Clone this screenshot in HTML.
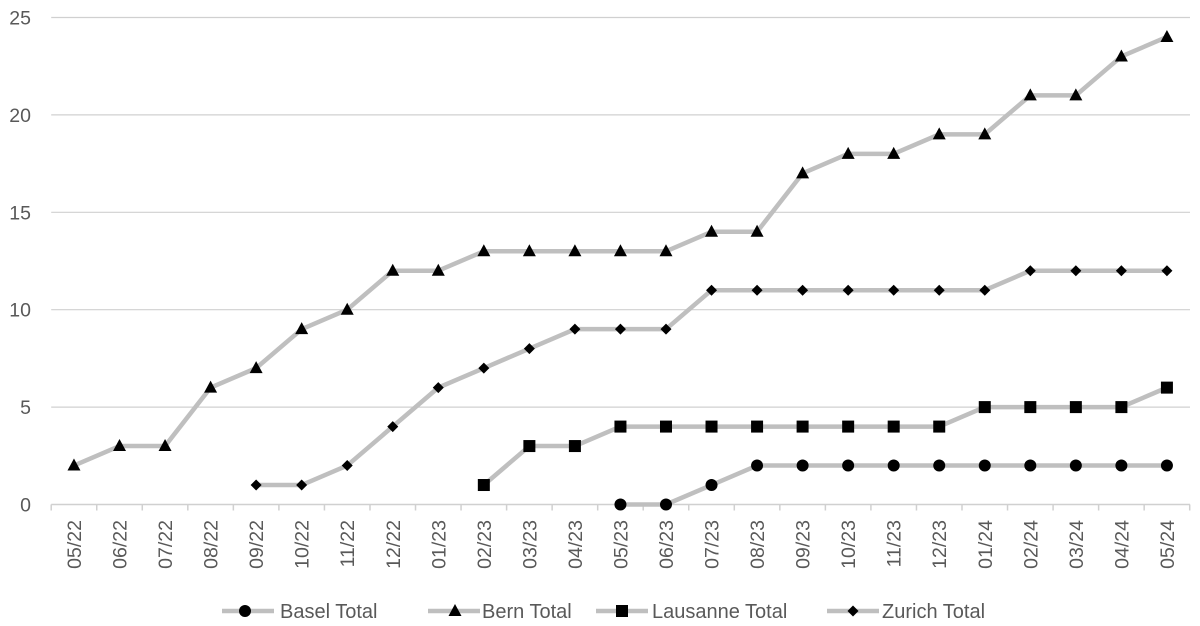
<!DOCTYPE html>
<html><head><meta charset="utf-8"><style>
html,body{margin:0;padding:0;background:#fff;}
svg{display:block;font-family:"Liberation Sans",Arial,sans-serif;}
</style></head><body>
<svg id="c" width="1200" height="626" viewBox="0 0 1200 626" xmlns="http://www.w3.org/2000/svg"></svg>
<script>
const svg=document.getElementById('c');
let h='';
const L=51.2,W=45.54,Y0=504.5,U=19.48;
const X=i=>L+W*(i+0.5), Y=v=>Y0-v*U;
for(let v=5;v<=25;v+=5){h+=`<line x1="${L}" x2="1190" y1="${Y(v)}" y2="${Y(v)}" stroke="#d0d0d0" stroke-width="1.2"/>`;}
for(let v=0;v<=25;v+=5){h+=`<text x="31" y="${Y(v)+7}" font-size="19.5" fill="#595959" text-anchor="end">${v}</text>`;}
h+=`<line x1="${L}" x2="1190" y1="${Y0}" y2="${Y0}" stroke="#d0d0d0" stroke-width="1.5"/>`;
const labs=[];let m=5,y=22;for(let i=0;i<25;i++){labs.push(String(m).padStart(2,'0')+'/'+y);m++;if(m>12){m=1;y++;}}
for(let i=0;i<=25;i++){const x=L+W*i;h+=`<line x1="${x}" x2="${x}" y1="${Y0}" y2="${Y0+6}" stroke="#d0d0d0" stroke-width="1.5"/>`;}
labs.forEach((t,i)=>{const x=X(i)+7;h+=`<text transform="translate(${x},520) rotate(-90)" font-size="19.5" fill="#595959" text-anchor="end">${t}</text>`;});
const bern=[2,3,3,6,7,9,10,12,12,13,13,13,13,13,14,14,17,18,18,19,19,21,21,23,24];
const zur=[null,null,null,null,1,1,2,4,6,7,8,9,9,9,11,11,11,11,11,11,11,12,12,12,12];
const lau=Array(9).fill(null).concat([1,3,3,4,4,4,4,4,4,4,4,5,5,5,5,6]);
const bas=Array(12).fill(null).concat([0,0,1,2,2,2,2,2,2,2,2,2,2]);
function mk(kind,x,y){
 if(kind=='c')return `<circle cx="${x}" cy="${y}" r="6" fill="#000"/>`;
 if(kind=='t')return `<polygon points="${x},${y-7} ${x+6.5},${y+5} ${x-6.5},${y+5}" fill="#000"/>`;
 if(kind=='s')return `<rect x="${x-6}" y="${y-6}" width="12" height="12" fill="#000"/>`;
 return `<polygon points="${x},${y-5.5} ${x+5.5},${y} ${x},${y+5.5} ${x-5.5},${y}" fill="#000"/>`;
}
function series(d,k){const p=[];d.forEach((v,i)=>{if(v!==null)p.push([X(i),Y(v)]);});
 h+=`<polyline points="${p.map(a=>a.join(',')).join(' ')}" fill="none" stroke="#bfbfbf" stroke-width="4.5" stroke-linejoin="round"/>`;
 p.forEach(a=>h+=mk(k,a[0],a[1]));}
series(bern,'t');series(zur,'d');series(lau,'s');series(bas,'c');
const leg=[['c','Basel Total',222,245,280],['t','Bern Total',428,455,482],['s','Lausanne Total',596,622,652],['d','Zurich Total',827,853,882]];
leg.forEach(([k,t,x,mx,tx])=>{h+=`<line x1="${x}" x2="${x+52}" y1="611" y2="611" stroke="#bfbfbf" stroke-width="4.5"/>`+mk(k,mx,611)+`<text x="${tx}" y="618" font-size="20" fill="#595959">${t}</text>`;});
svg.innerHTML=h;
</script>
</body></html>
